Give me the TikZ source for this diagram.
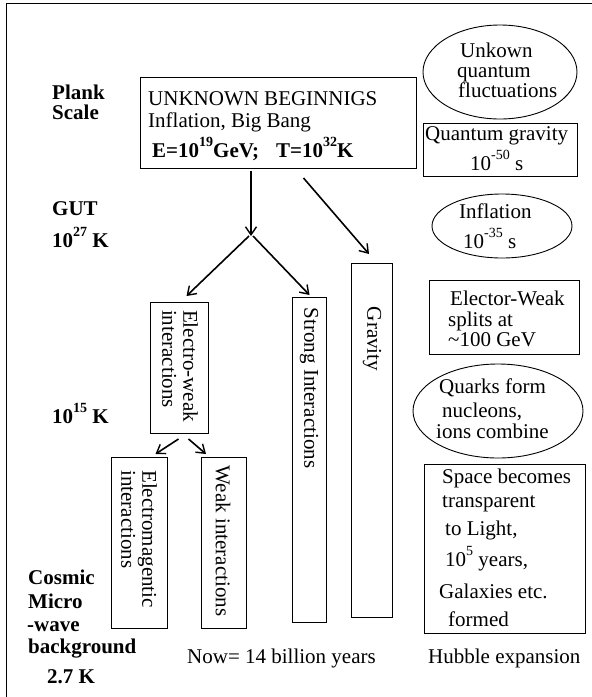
\documentclass[tikz,border=0pt]{standalone}
\usepackage{fontspec}
\setmainfont{Liberation Serif}
\usetikzlibrary{arrows.meta,shapes.geometric,calc}
% raised small figures for powers of ten
\newcommand\powr[1]{\raisebox{11pt}{\fontsize{14}{14}\selectfont #1}}
\begin{document}
\begin{tikzpicture}[x=1pt,y=-1pt,
  every node/.style={font=\fontsize{21}{21}\selectfont, inner sep=0pt},
  box/.style={draw, line width=1pt, anchor=north west},
  oval/.style={draw, ellipse, line width=0.9pt},
  txt/.style={anchor=base west},
  hdr/.style={anchor=base west, font=\fontsize{21}{21}\selectfont\bfseries},
  vtxt/.style={rotate=-90, align=left},
  arr/.style={line width=1.6pt, -{Straight Barb[length=8pt,width=11pt,line width=1.4pt]}}
]
\useasboundingbox (0,0) rectangle (592,697);
% frame
\draw[line width=1.8pt] (6.5,710) -- (6.5,3.5) -- (610,3.5);

% temperature / epoch labels on the left
\node[hdr] (plank) at (52,99) {Plank};
\node[hdr] (scale) at (52,119) {Scale};
\node[hdr] (gut) at (52,215) {GUT};
\node[hdr] (t27) at (52,247) {10\powr{27} K};
\node[hdr] (t15) at (52,423) {10\powr{15} K};
\node[hdr] (cos1) at (28,584) {Cosmic};
\node[hdr] (cos2) at (28,608) {Micro};
\node[hdr] (cos3) at (27,631) {-wave};
\node[hdr] (cos4) at (28,653) {background};
\node[hdr] (cos5) at (47,683) {2.7 K};

% the beginning
\node[box, minimum width=276pt, minimum height=91pt] (big) at (140,77) {};
\node[txt] (big1) at (148,105) {UNKNOWN BEGINNIGS};
\node[txt] (big2) at (148,127) {Inflation, Big Bang};
\node[hdr] (big3) at (152,157)
  {E=10\powr{19}GeV;\hspace{17pt}T=10\powr{32}K};

% forces
\node[box, minimum width=58pt, minimum height=131pt] (ew) at (150,302) {};
\node[vtxt] (ewt) at (180,366) {Electro-weak\\interactions};
\node[box, minimum width=34pt, minimum height=325pt] (strong) at (292,297) {};
\node[vtxt] (strongt) at (309,388) {Strong Interactions};
\node[box, minimum width=41pt, minimum height=354pt] (grav) at (351,263) {};
\node[vtxt] (gravt) at (372,339) {Gravity};
\node[box, minimum width=56pt, minimum height=171pt] (em) at (111,457) {};
\node[vtxt] (emt) at (139,539) {Electromagentic\\interactions};
\node[box, minimum width=45pt, minimum height=171pt] (weak) at (201,457) {};
\node[vtxt] (weakt) at (223,541) {Weak interactions};

% splitting arrows
\coordinate (split) at (251,236);
\draw[arr] ($(big.south -| split)+(0,2)$) -- (split);
\draw[arr] ($(split)+(-2,0)$) -- ($(ew.north)+(7,-6)$);
\draw[arr] ($(split)+(2,0)$) -- ($(strong.north)+(0,-2)$);
\draw[arr] ($(big.south)+(25,9)$) -- ($(grav.north)+(-3,-9)$);
\draw[arr] ($(ew.south)+(-1,5)$) -- ($(em.north)+(16,-3)$);
\draw[arr] ($(ew.south)+(9,5)$) -- ($(weak.north)+(-18,-3)$);

% bottom captions
\node[txt] (now) at (187,663) {Now= 14 billion years};
\node[txt] (hubble) at (428,663) {Hubble expansion};

% right column: the history
\node[oval, minimum width=154pt, minimum height=94pt] (fluct) at (500,72) {};
\node[txt] (fl1) at (460,57) {Unkown};
\node[txt] (fl2) at (457,77) {quantum};
\node[txt] (fl3) at (458,97) {fluctuations};

\node[box, minimum width=154pt, minimum height=53pt] (qg) at (423,123) {};
\node[txt] (qg1) at (425,140) {Quantum gravity};
\node[txt] (qg2) at (470,170) {10\powr{-50} s};

\node[oval, minimum width=140pt, minimum height=64pt] (infl) at (502,226) {};
\node[txt] (in1) at (459,218) {Inflation};
\node[txt] (in2) at (463,248) {10\powr{-35} s};

\node[box, minimum width=150pt, minimum height=74pt] (split2) at (429,280) {};
\node[txt] (sp1) at (450,305) {Elector-Weak};
\node[txt] (sp2) at (448,326) {splits at};
\node[txt] (sp3) at (448,346) {\textasciitilde 100 GeV};

\node[oval, minimum width=170pt, minimum height=94pt] (quarks) at (498,411) {};
\node[txt] (qu1) at (439,393) {Quarks form};
\node[txt] (qu2) at (442,417) {nucleons,};
\node[txt] (qu3) at (436,438) {ions combine};

\node[box, minimum width=161pt, minimum height=169pt] (space) at (424,464) {};
\node[txt] (sb1) at (442,483) {Space becomes};
\node[txt] (sb2) at (442,507) {transparent};
\node[txt] (sb3) at (445,535) {to Light,};
\node[txt] (sb4) at (445,566) {10\powr{5} years,};
\node[txt] (sb5) at (439,598) {Galaxies etc.};
\node[txt] (sb6) at (448,626) {formed};
\end{tikzpicture}
\end{document}
